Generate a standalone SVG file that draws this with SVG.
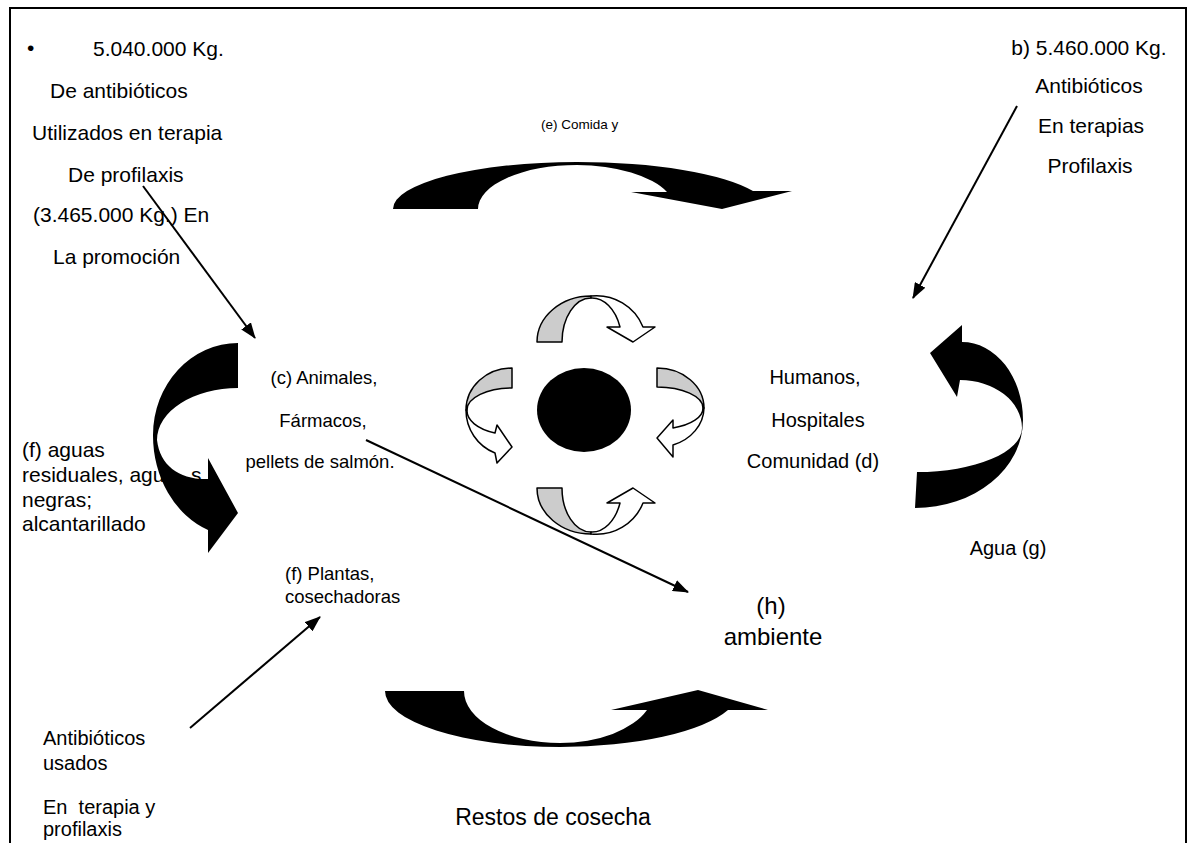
<svg xmlns="http://www.w3.org/2000/svg" width="1193" height="843" viewBox="0 0 1193 843">
<defs>
<style>
text{font-family:"Liberation Sans",Arial,sans-serif;fill:#000}
.t21{font-size:21px}
.t20{font-size:20px}
.t19{font-size:18.5px}
.mid{text-anchor:middle}
.thin{stroke:#000;stroke-width:2;fill:none;marker-end:url(#ah)}
.big{fill:#000;stroke:none}
.gray{fill:#cccccc;stroke:#000;stroke-width:1.5;stroke-linejoin:round}
.white{fill:#fff;stroke:#000;stroke-width:1.5;stroke-linejoin:round}
</style>
<marker id="ah" viewBox="0 0 16 12" refX="15" refY="6" markerWidth="16" markerHeight="12" markerUnits="userSpaceOnUse" orient="auto">
<path d="M0,0 L16,6 L0,12 z" fill="#000"/>
</marker>
</defs>
<rect width="1193" height="843" fill="#fff"/>
<path d="M10,843 V8 H1186 V843" fill="none" stroke="#000" stroke-width="2"/>

<g id="node-a">
<text class="t21" x="27" y="55">•</text>
<text class="t21" x="93" y="56">5.040.000 Kg.</text>
<text class="t21" x="50" y="98">De antibióticos</text>
<text class="t21" x="32" y="140">Utilizados en terapia</text>
<text class="t21" x="68" y="182">De profilaxis</text>
<text class="t21" x="33" y="222">(3.465.000 Kg.) En</text>
<text class="t21" x="53" y="264">La promoción</text>
</g>
<g id="node-b">
<text class="t21 mid" x="1089" y="55">b) 5.460.000 Kg.</text>
<text class="t21 mid" x="1089" y="93">Antibióticos</text>
<text class="t21 mid" x="1091" y="133">En terapias</text>
<text class="t21 mid" x="1090" y="173">Profilaxis</text>
</g>
<g id="node-e">
<text x="541" y="129" font-size="13.5">(e) Comida y</text>
</g>
<g id="node-c">
<text class="t19 mid" x="324" y="384">(c) Animales,</text>
<text class="t19 mid" x="323" y="427">Fármacos,</text>
<text class="t19 mid" x="320" y="468">pellets de salmón.</text>
</g>
<g id="node-d">
<text class="t20 mid" x="815" y="384">Humanos,</text>
<text class="t20 mid" x="818" y="427">Hospitales</text>
<text class="t20 mid" x="813" y="468">Comunidad (d)</text>
</g>
<g id="node-f-aguas">
<text class="t21" x="22" y="457">(f) aguas</text>
<text class="t21" x="22" y="482">residuales, agua<tspan x="191">s</tspan></text>
<text class="t21" x="22" y="507">negras;</text>
<text class="t21" x="22" y="531">alcantarillado</text>
</g>
<g id="node-g">
<text class="t20 mid" x="1008" y="555">Agua (g)</text>
</g>
<g id="node-f-plantas">
<text class="t19" x="285" y="580">(f) Plantas,</text>
<text class="t19" x="285" y="603">cosechadoras</text>
</g>
<g id="node-h">
<text class="mid" x="771" y="614" font-size="24">(h)</text>
<text class="mid" x="773" y="645" font-size="24">ambiente</text>
</g>
<g id="node-antibioticos-usados">
<text class="t20" x="43" y="745">Antibióticos</text>
<text class="t20" x="43" y="770">usados</text>
<text class="t20" x="43" y="814" style="white-space:pre">En  terapia y</text>
<text class="t20" x="43" y="836">profilaxis</text>
</g>
<g id="node-restos">
<text class="mid" x="553" y="825" font-size="23">Restos de cosecha</text>
</g>

<g id="node-center">
<ellipse cx="584" cy="410" rx="47" ry="42" fill="#000"/>
<g id="small-top">
<path class="gray" d="M537,342 A54,46 0 0 1 591,296 L591,298 A29,44 0 0 0 562,342 Z"/>
<path class="white" d="M591,296 A50,49 0 0 1 643,327 L655,327 L633,342 L607,327 L620,327 A30,45 0 0 0 591,298 Z"/>
</g>
<g id="small-bottom" transform="matrix(1,0,0,-1,0,830)">
<path class="gray" d="M537,342 A54,46 0 0 1 591,296 L591,298 A29,44 0 0 0 562,342 Z"/>
<path class="white" d="M591,296 A50,49 0 0 1 643,327 L655,327 L633,342 L607,327 L620,327 A30,45 0 0 0 591,298 Z"/>
</g>
<g id="small-left">
<path class="gray" d="M512,368 A46,42 0 0 0 466,410 L467,410 A45,22 0 0 1 512,388 Z"/>
<path class="white" d="M466,410 A46,46 0 0 0 495,453 L497,463 L512,447 L497,425 L495,433 A45,24 0 0 1 467,410 Z"/>
</g>
<g id="small-right">
<path class="gray" d="M657,368 A47,40 0 0 1 704,408 L703,408 A46,21 0 0 0 657,387 Z"/>
<path class="white" d="M704,408 A47,40 0 0 1 673,445 L673,457 L657,438 L673,420 L673,428 A46,21 0 0 0 703,408 Z"/>
</g>
</g>

<g id="connectors">
<path class="big" d="M393,209 A184,47 0 0 1 577,162 A190,47 0 0 1 753,191 L792,191 L722,209 L631,192 L667,192 A99,44 0 0 0 577,165 A99,44 0 0 0 478,209 Z"/>
<path class="big" d="M385,691 A175,56 0 0 0 560,747 A179,56 0 0 0 728,710 L768,710 L698,690 L611,710 L647,710 A94,52 0 0 1 560,743 A96,52 0 0 1 464,691 Z"/>
<path class="big" d="M238,343 A85,92 0 0 0 153,435 A85,101 0 0 0 208,530 L208,553 L238,513 L208,458 L208,479 C180,480 160,466 157,440 A81,52 0 0 1 238,388 Z"/>
<path class="big" d="M915,508 A108,88 0 0 0 1023,420 A61,78 0 0 0 962,342 L962,325 L930,353 L957,397 L960,380 A62,48 0 0 1 1022,428 A105,44 0 0 1 917,472 Z"/>
<path class="thin" d="M143,186 L255,338"/>
<path class="thin" d="M1017,106 L913,298"/>
<path class="thin" d="M366,440 L688,592"/>
<path class="thin" d="M190,728 L320,617"/>
</g>
</svg>
